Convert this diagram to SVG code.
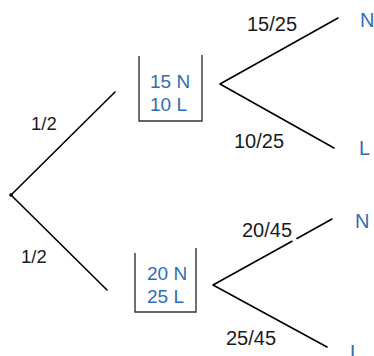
<svg xmlns="http://www.w3.org/2000/svg" width="374" height="356" viewBox="0 0 374 356">
<style>
.ln{fill:none;stroke:#000;stroke-width:1.6;stroke-linecap:round;stroke-linejoin:round}
.box{fill:none;stroke:#333;stroke-width:1.4}
.frac{font-family:"Liberation Sans",Arial,sans-serif;font-size:20px;fill:#1a1a1a}
.half{font-family:"Liberation Sans",Arial,sans-serif;font-size:18.5px;fill:#1a1a1a}
.cnt{font-family:"Liberation Sans",Arial,sans-serif;font-size:19px;fill:#2f6db5}
.res{font-family:"Liberation Sans",Arial,sans-serif;font-size:20px;fill:#2f6db5}
</style>
<rect width="374" height="356" fill="#fff"/>
<g id="connectors">
<path class="ln" d="M11 195 L115 92"/>
<path class="ln" d="M11 195 L107 290"/>
<path class="ln" d="M338 18 L220 84 L334 148"/>
<path class="ln" d="M332 219 L297 238.5 M292 241.3 L213 285 L327 347"/>
<circle cx="11" cy="195" r="1.8" fill="#000"/>
<text class="half" x="31" y="130">1/2</text>
<text class="half" x="21" y="263">1/2</text>
<text class="frac" x="247" y="31">15/25</text>
<text class="frac" x="234" y="148">10/25</text>
<text class="frac" x="242" y="237">20/45</text>
<text class="frac" x="226" y="345">25/45</text>
</g>
<g id="box-top">
<path class="box" d="M139 56 V121 H202 V55"/>
<text class="cnt" x="150" y="88">15 N</text>
<text class="cnt" x="150" y="111">10 L</text>
</g>
<g id="box-bottom">
<path class="box" d="M135 253 V312 H196 V248"/>
<text class="cnt" x="147" y="280">20 N</text>
<text class="cnt" x="147" y="303">25 L</text>
</g>
<g id="res-top-N"><text class="res" x="360" y="27">N</text></g>
<g id="res-top-L"><text class="res" x="359" y="155">L</text></g>
<g id="res-bot-N"><text class="res" x="355" y="228">N</text></g>
<g id="res-bot-L"><text class="res" x="350" y="359">L</text></g>
</svg>
